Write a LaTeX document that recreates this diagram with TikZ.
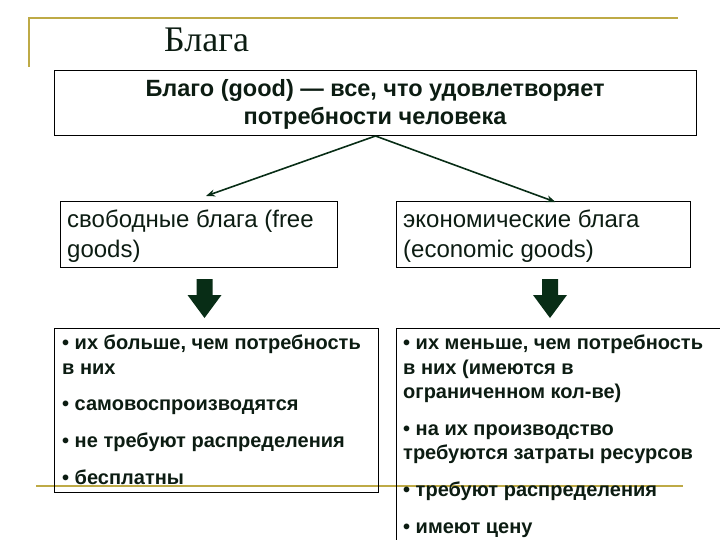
\documentclass[tikz,border=0pt]{standalone}
\usepackage{fontspec}
\setmainfont{Liberation Sans}
\newfontfamily\titlefont{Liberation Serif}
\usetikzlibrary{positioning,arrows.meta}
\definecolor{gold}{RGB}{190,170,70}
\definecolor{darkgreen}{RGB}{8,45,22}
\definecolor{inkgreen}{RGB}{12,28,18}
\tikzset{
  box/.style={draw=black, line width=1pt, anchor=north west, inner sep=0pt},
  boxtext/.style={anchor=north west, inner sep=0pt, align=left, text=inkgreen},
  bullets/.style={boxtext, font=\fontsize{20}{24.3}\selectfont\bfseries},
  conn/.style={draw=darkgreen, line width=1.6pt, -{Stealth[length=9pt,width=7pt]}},
  frameline/.style={draw=gold, line width=2pt},
  downarrow/.style={fill=darkgreen}
}
\begin{document}
\begin{tikzpicture}[x=1pt, y=-1pt]
\useasboundingbox (0,0) rectangle (720,540);
\clip (0,0) rectangle (720,540);
% gold frame
\draw[frameline] (29,67)--(29,18)--(678,18);
\draw[frameline] (36,486)--(683,486);
\node[anchor=base west, inner sep=0pt, text=inkgreen, font=\titlefont\fontsize{36}{40}\selectfont] (title) at (164,52) {Блага};
% definition
\node[box, minimum width=642, minimum height=65] (def) at (54,70) {};
\node[align=center, text=inkgreen, inner sep=0pt, font=\fontsize{23.5}{28}\selectfont\bfseries] (deftext) at (375,104) {Благо (good) — все, что удовлетворяет\\потребности человека};
% two kinds of goods
\node[box, minimum width=277, minimum height=66] (free) at (60,201) {};
\node[box, minimum width=294, minimum height=66] (econ) at (396,201) {};
\node[boxtext, font=\fontsize{24}{30}\selectfont] (freetext) at (67,210) {свободные блага (free\\goods)};
\node[boxtext, font=\fontsize{24}{30}\selectfont] (econtext) at (403,210) {экономические блага\\(economic goods)};
\draw[conn] (def.south) -- ([xshift=7pt,yshift=5pt]free.north);
\draw[conn] (def.south) -- ([xshift=12pt,yshift=-1pt]econ.north);
% block arrows
\coordinate (downL) at (204.5,279);
\coordinate (downR) at (550,279);
\foreach \c in {downL,downR}
  \fill[downarrow] (\c) ++(-8,0) -- ++(16,0) -- ++(0,16) -- ++(9,0) -- ++(-17,23) -- ++(-17,-23) -- ++(9,0) -- cycle;
% properties
\node[box, minimum width=324, minimum height=164] (freeprops) at (54,328) {};
\node[box, minimum width=340, minimum height=230] (econprops) at (396,328) {};
\node[bullets] (freelist) at (62,335) {• их больше, чем потребность\\в них\\[12.5pt]• самовоспроизводятся\\[12.5pt]• не требуют распределения\\[12.5pt]• бесплатны};
\node[bullets] (econlist) at (403,335) {• их меньше, чем потребность\\в них (имеются в\\ограниченном кол-ве)\\[12.5pt]• на их производство\\требуются затраты ресурсов\\[12.5pt]• требуют распределения\\[12.5pt]• имеют цену};
\end{tikzpicture}
\end{document}
